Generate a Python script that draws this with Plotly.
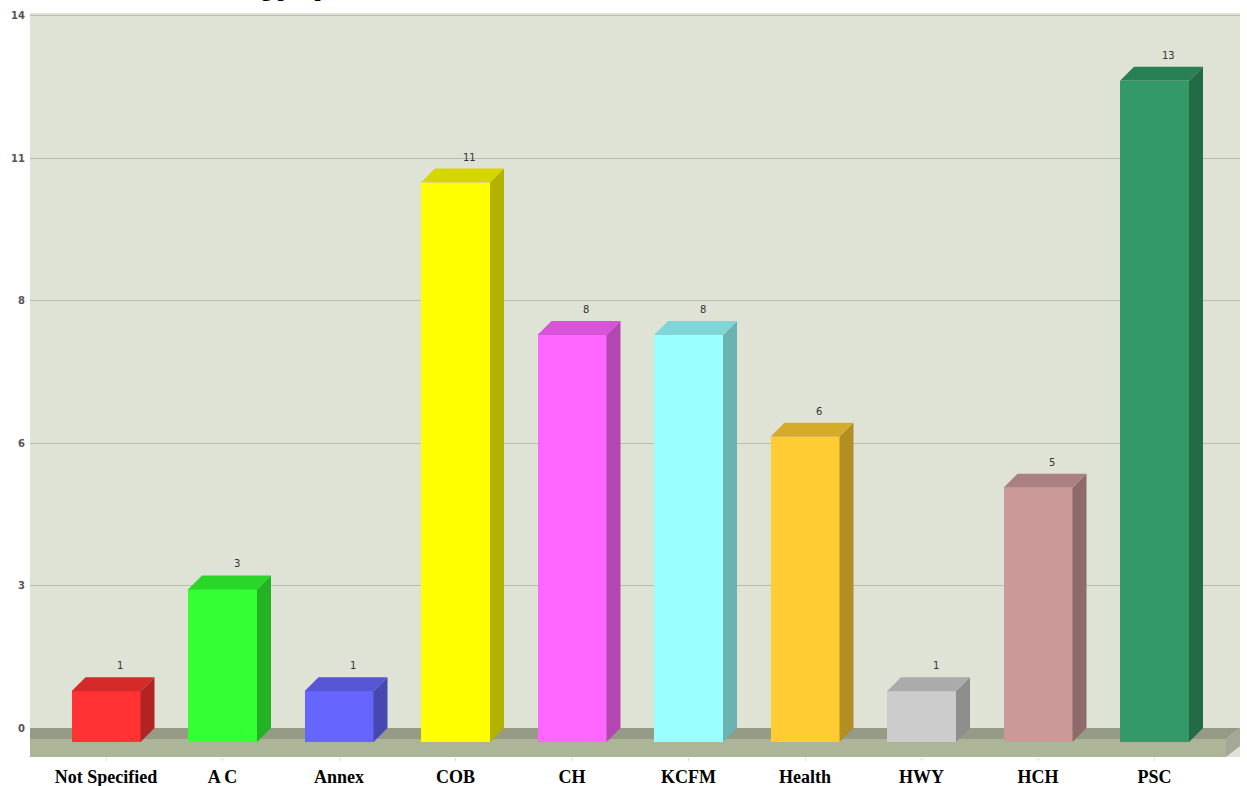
import plotly.graph_objects as go

# ---- data ----
categories = ["Not Specified", "A C", "Annex", "COB", "CH", "KCFM", "Health", "HWY", "HCH", "PSC"]
values = [1, 3, 1, 11, 8, 8, 6, 1, 5, 13]
front_colors = ["#ff3333", "#33ff33", "#6666ff", "#ffff00", "#ff66ff",
                "#99ffff", "#ffcc33", "#cccccc", "#cc9999", "#339966"]
ytick_vals = [0, 2.8, 5.6, 8.4, 11.2, 14]
ytick_text = ["0", "3", "6", "8", "11", "14"]
title_text = "Orders Outstanding per plant"

# ---- geometry (pixel -> data scale helpers) ----
W, H = 1247, 786
ML, MR, MT, MB = 30, 7, 13, 29
px_per_x = 116.5
px_per_y = 50.86
x0_px = 106           # pixel of category 0 centre
y0_px = 728           # pixel of value 0 (back plane)
xr = [(ML - x0_px) / px_per_x, (W - MR - x0_px) / px_per_x]
yr = [-(H - MB - y0_px) / px_per_y, (y0_px - MT) / px_per_y]

dx = 14 / px_per_x    # depth offset in x units
dy = 14 / px_per_y    # depth offset in y units
bw = 69 / px_per_x    # bar width
floor_d = 11 / px_per_y


def shade(hexc, f):
    hexc = hexc.lstrip("#")
    r, g, b = (int(hexc[i:i + 2], 16) for i in (0, 2, 4))
    return "rgb(%d,%d,%d)" % (r * f, g * f, b * f)


fig = go.Figure()

# front faces
fig.add_trace(go.Bar(
    x=list(range(len(categories))), y=values, base=[-dy] * len(values),
    width=bw, marker=dict(color=front_colors, line=dict(width=0)),
    hoverinfo="skip", showlegend=False))

# side and top faces
for i, (v, c) in enumerate(zip(values, front_colors)):
    xl, xrt = i - bw / 2, i + bw / 2
    fig.add_trace(go.Scatter(
        x=[xrt, xrt + dx, xrt + dx, xrt, xrt], y=[-dy, 0, v, v - dy, -dy],
        mode="lines", fill="toself", fillcolor=shade(c, 0.70),
        line=dict(width=0, color=shade(c, 0.70)), hoverinfo="skip", showlegend=False))
    fig.add_trace(go.Scatter(
        x=[xl, xrt, xrt + dx, xl + dx, xl], y=[v - dy, v - dy, v, v, v - dy],
        mode="lines", fill="toself", fillcolor=shade(c, 0.84),
        line=dict(width=0, color=shade(c, 0.84)), hoverinfo="skip", showlegend=False))

# value labels
annotations = []
for i, v in enumerate(values):
    annotations.append(dict(
        x=i + dx, y=v, xref="x", yref="y", text=str(v), showarrow=False,
        yanchor="bottom", yshift=4,
        font=dict(family="DejaVu Sans", size=10, color="#333333")))

# title (cut off by the top edge, as in the source image)
annotations.append(dict(
    x=(80 - ML) / (W - ML - MR), y=1, xref="paper", yref="paper",
    xanchor="left", yanchor="bottom", yshift=10, showarrow=False,
    text=title_text,
    font=dict(family="Liberation Serif", size=22, color="black", weight="bold")))

# floor slab
shapes = [
    dict(type="path", xref="x", yref="y", layer="between",
         path=f"M {xr[0]},0 L {xr[1]},0 L {xr[1]-dx},{-floor_d} L {xr[0]-dx},{-floor_d} Z",
         fillcolor="#969b85", line=dict(width=0)),
    dict(type="path", xref="x", yref="y", layer="between",
         path=f"M {xr[0]-dx},{-floor_d} L {xr[1]-dx},{-floor_d} L {xr[1]-dx},{yr[0]} L {xr[0]-dx},{yr[0]} Z",
         fillcolor="#adb598", line=dict(width=0)),
    dict(type="path", xref="x", yref="y", layer="between",
         path=f"M {xr[1]-dx},{-floor_d} L {xr[1]},0 L {xr[1]},{yr[0]+floor_d} L {xr[1]-dx},{yr[0]} Z",
         fillcolor="#a4a897", line=dict(width=0)),
]

fig.update_layout(
    width=W, height=H,
    margin=dict(l=ML, r=MR, t=MT, b=MB, autoexpand=False),
    paper_bgcolor="white", plot_bgcolor="#dfe3d5",
    xaxis=dict(range=xr, tickvals=list(range(len(categories))), ticktext=categories,
               showgrid=False, zeroline=False, showline=False, automargin=False,
               ticks="outside", ticklen=3, tickcolor="#dddddd",
               tickfont=dict(family="Liberation Serif", size=18, color="black", weight="bold")),
    yaxis=dict(range=yr, tickvals=ytick_vals, ticktext=ytick_text,
               showgrid=True, gridcolor="#b9bdaf", gridwidth=1, zeroline=False,
               showline=False, automargin=False, ticks="", ticklabelstandoff=4,
               tickfont=dict(family="DejaVu Sans", size=10, color="#555555", weight="bold")),
    shapes=shapes, annotations=annotations, bargap=0, showlegend=False,
)

fig.write_html("out.html")
